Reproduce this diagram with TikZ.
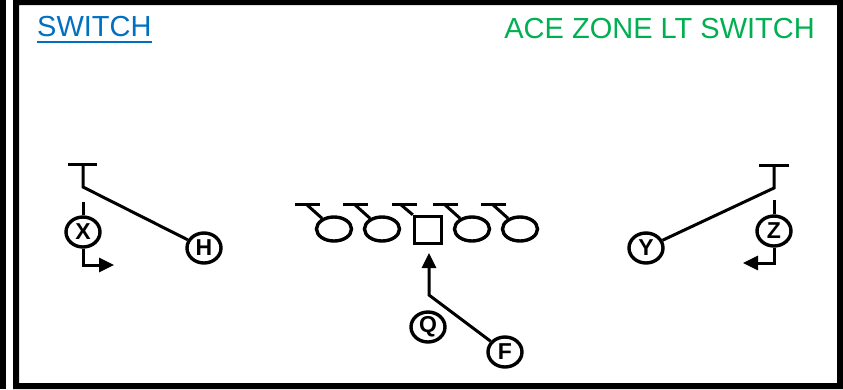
\documentclass[tikz,border=0pt]{standalone}
\usepackage{fontspec}
\setmainfont{Liberation Sans}
\usetikzlibrary{arrows.meta,shapes.geometric}
\definecolor{titleblue}{HTML}{0070C0}
\definecolor{titlegreen}{HTML}{00B050}
\begin{document}
\begin{tikzpicture}[x=1pt,y=-1pt,
  player/.style={ellipse, draw, line width=3.4pt, minimum width=34pt, minimum height=30pt, inner sep=0pt, font=\fontsize{23}{23}\selectfont\bfseries},
  lineman/.style={ellipse, draw, line width=3.4pt, minimum width=35pt, minimum height=24pt, inner sep=0pt},
  snapbox/.style={rectangle, draw, line width=3.4pt, minimum width=27pt, minimum height=27pt, inner sep=0pt},
  route/.style={line width=3pt},
  arr/.style={-{Triangle[length=15pt,width=14pt]}}
]
\useasboundingbox (0,0) rectangle (843,389);
% frame
\fill[black] (0,0) rectangle (6,389);
\fill[black, even odd rule] (13,0) rectangle (843,389) (19,5) rectangle (837,383);
% titles
\node[anchor=base west, text=titleblue, font=\fontsize{29}{29}\selectfont, inner sep=0pt] (title) at (37,36) {SWITCH};
\draw[titleblue, line width=2pt] ([yshift=-5.5pt]title.south west) -- ([yshift=-5.5pt]title.south east);
\node[anchor=base east, text=titlegreen, font=\fontsize{29}{29}\selectfont, inner sep=0pt] (play) at (815,38) {ACE ZONE LT SWITCH};
% offensive line
\foreach \nm/\cx in {L1/334, L2/382, R1/472, R2/520}{
  \node[lineman] (\nm) at (\cx,229) {};
  \coordinate (\nm b) at (\cx-28,204);
  \draw[route] (\cx-39,204) -- (\cx-14,204);
  \draw[route] (\nm b) -- (\nm);
}
\node[snapbox] (C) at (428,230) {};
\coordinate (Cb) at (400,204);
\draw[route] (392,204) -- (417,204);
\draw[route] (Cb) -- (C.north west);
% skill players
\node[player] (X) at (83,232) {X};
\node[player] (H) at (204,248) {H};
\node[player] (Y) at (646,248) {Y};
\node[player] (Z) at (774,231) {Z};
\node[player] (Q) at (428,327) {Q};
\node[player] (F) at (505,352) {F};
% X and H
\coordinate (XT) at (83,164);
\coordinate (XK) at (83,187);
\draw[route] (68,164) -- (97,164);
\draw[route] (XT) -- (XK) -- (H);
\coordinate (Xs) at (83,202);
\draw[route] (Xs) -- (X.north);
\coordinate (Xa) at (114,265);
\draw[route, arr] (X.south) |- (Xa);
% Z and Y
\coordinate (ZT) at (774,165);
\coordinate (ZK) at (774,188);
\draw[route] (759,165) -- (789,165);
\draw[route] (ZT) -- (ZK) -- (Y);
\coordinate (Zs) at (774,200);
\draw[route] (Zs) -- (Z.north);
\coordinate (Za) at (743,263);
\draw[route, arr] (Z.south) |- (Za);
% F and Q
\coordinate (Fk) at (429,295);
\coordinate (Fa) at (429,253);
\draw[route, arr] (F) -- (Fk) -- (Fa);
\end{tikzpicture}
\end{document}
